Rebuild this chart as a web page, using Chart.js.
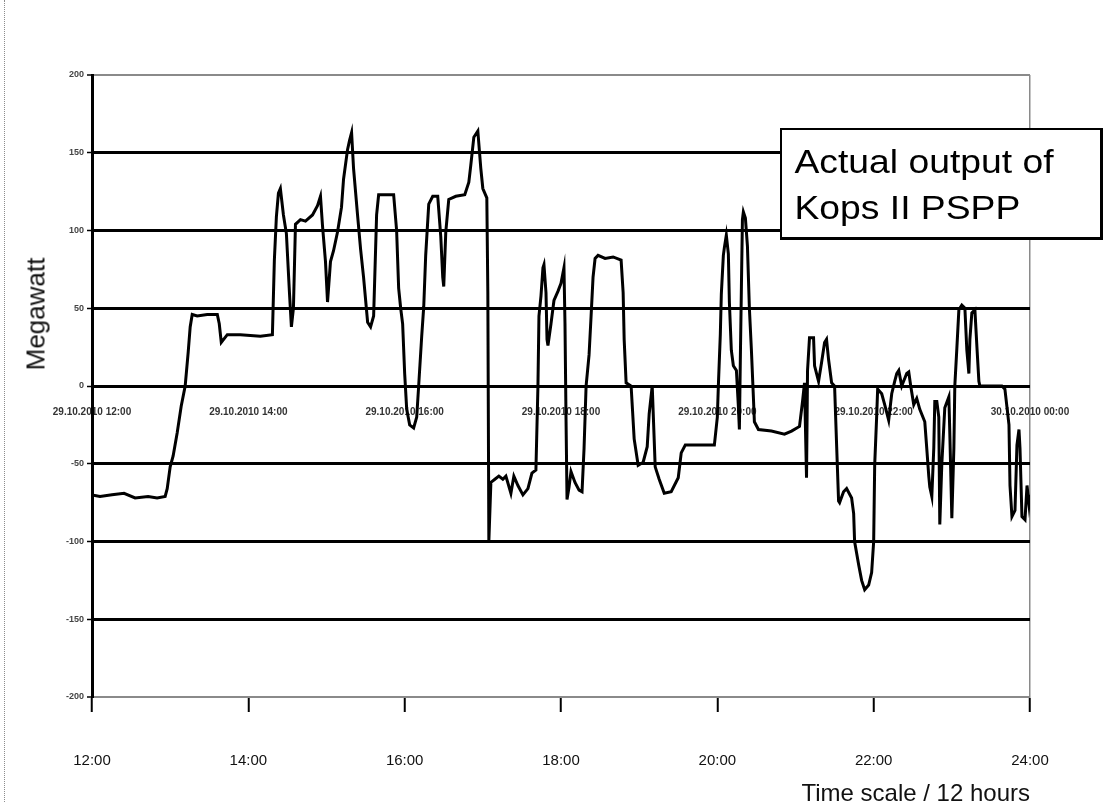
<!DOCTYPE html>
<html>
<head>
<meta charset="utf-8">
<title>Actual output of Kops II PSPP</title>
<script src="https://cdn.jsdelivr.net/npm/chart.js@4.4.1/dist/chart.umd.min.js"></script>
<style>
    html, body { margin: 0; padding: 0; background: #fff; }
    #wrap { position: relative; width: 1120px; height: 802px; overflow: hidden; }
    #scanEdge { position: absolute; left: 4px; top: 0; bottom: 0; border-left: 1px dotted #8c8c8c; }
    #ylabel {
        position: absolute; left: 36px; top: 314px;
        transform: translate(-50%, -50%) rotate(-90deg);
        font: 26px "Liberation Sans", Arial, sans-serif; color: #111; white-space: nowrap;
    }
    #note {
        position: absolute; left: 780px; top: 128px; width: 318px; height: 107px;
        border: 2px solid #000; border-right-width: 3px; border-bottom-width: 3px;
        background: #fff; box-sizing: content-box;
    }
    #note span {
        display: block; padding: 9px 0 0 11px;
        font: 33px/46px "Liberation Sans", Arial, sans-serif; color: #000;
        transform: scaleX(1.13); transform-origin: left top; white-space: nowrap;
    }
</style>
</head>
<body>
<div id="wrap">
    <canvas id="chart"></canvas>
    <div id="scanEdge"></div>
    <div id="ylabel">Megawatt</div>
    <div id="note"><span>Actual output of<br>Kops II PSPP</span></div>
</div>

<script>
// --- Du lieu doc tu hinh (gio trong ngay 29.10.2010, MW) ---
const times = [
    12.000, 12.103, 12.256, 12.410, 12.551, 12.718, 12.833, 12.936, 12.962, 13.000,
    13.038, 13.090, 13.141, 13.192, 13.231, 13.256, 13.282, 13.346, 13.474, 13.603,
    13.628, 13.654, 13.731, 13.897, 14.154, 14.308, 14.333, 14.359, 14.385, 14.410,
    14.449, 14.487, 14.526, 14.551, 14.577, 14.603, 14.667, 14.731, 14.821, 14.885,
    14.923, 14.949, 14.987, 15.013, 15.051, 15.090, 15.141, 15.192, 15.218, 15.269,
    15.295, 15.321, 15.346, 15.397, 15.436, 15.474, 15.526, 15.564, 15.603, 15.641,
    15.667, 15.859, 15.897, 15.923, 15.949, 15.974, 16.000, 16.026, 16.064, 16.115,
    16.154, 16.179, 16.218, 16.244, 16.269, 16.308, 16.359, 16.423, 16.462, 16.487,
    16.500, 16.526, 16.564, 16.654, 16.769, 16.821, 16.846, 16.885, 16.936, 16.974,
    17.000, 17.051, 17.064, 17.077, 17.103, 17.154, 17.205, 17.256, 17.295, 17.359,
    17.397, 17.449, 17.513, 17.577, 17.628, 17.679, 17.705, 17.718, 17.744, 17.769,
    17.782, 17.808, 17.821, 17.833, 17.872, 17.910, 17.962, 18.000, 18.038, 18.051,
    18.064, 18.077, 18.103, 18.128, 18.179, 18.231, 18.269, 18.295, 18.321, 18.359,
    18.385, 18.410, 18.436, 18.474, 18.564, 18.667, 18.769, 18.795, 18.808, 18.833,
    18.897, 18.936, 18.987, 19.051, 19.103, 19.128, 19.167, 19.205, 19.256, 19.321,
    19.410, 19.500, 19.538, 19.590, 19.795, 19.962, 20.000, 20.013, 20.038, 20.051,
    20.077, 20.090, 20.115, 20.141, 20.154, 20.179, 20.205, 20.244, 20.269, 20.282,
    20.295, 20.308, 20.321, 20.333, 20.359, 20.385, 20.410, 20.436, 20.462, 20.474,
    20.526, 20.692, 20.859, 20.949, 21.051, 21.090, 21.115, 21.141, 21.154, 21.179,
    21.231, 21.244, 21.295, 21.333, 21.372, 21.397, 21.423, 21.462, 21.500, 21.526,
    21.551, 21.564, 21.615, 21.654, 21.718, 21.744, 21.756, 21.808, 21.846, 21.885,
    21.936, 21.974, 22.000, 22.013, 22.038, 22.051, 22.103, 22.141, 22.192, 22.231,
    22.269, 22.295, 22.321, 22.359, 22.423, 22.449, 22.474, 22.513, 22.551, 22.590,
    22.654, 22.679, 22.705, 22.718, 22.744, 22.769, 22.782, 22.808, 22.833, 22.846,
    22.872, 22.910, 22.962, 22.974, 23.000, 23.026, 23.038, 23.064, 23.090, 23.128,
    23.167, 23.192, 23.218, 23.231, 23.256, 23.295, 23.321, 23.346, 23.359, 23.641,
    23.679, 23.731, 23.744, 23.769, 23.808, 23.833, 23.859, 23.872, 23.897, 23.936,
    23.962, 23.987, 24.000
];
const megawatt = [
    -70, -71, -70, -69, -72, -71, -72, -71, -66, -52,
    -45, -30, -13, 0, 22, 38, 46, 45, 46, 46,
    40, 28, 33, 33, 32, 33, 81, 109, 124, 127,
    110, 98, 60, 38, 50, 104, 107, 106, 110, 116,
    122, 103, 80, 54, 80, 87, 99, 115, 133, 152,
    158, 163, 140, 110, 88, 70, 41, 38, 45, 110,
    123, 123, 100, 63, 50, 40, 8, -15, -25, -27,
    -20, 0, 32, 51, 84, 117, 122, 122, 96, 70,
    64, 99, 120, 122, 123, 131, 142, 160, 164, 140,
    127, 121, 60, -100, -62, -60, -58, -60, -58, -69,
    -58, -64, -70, -66, -56, -54, 0, 45, 58, 76,
    78, 60, 30, 26, 40, 55, 61, 66, 76, 40,
    -20, -73, -65, -55, -62, -67, -68, -40, 0, 20,
    45, 70, 82, 84, 82, 83, 81, 60, 30, 2,
    0, -34, -51, -49, -39, -18, 0, -52, -60, -69,
    -68, -59, -43, -38, -38, -38, -20, 0, 33, 59,
    84, 89, 97, 85, 54, 23, 13, 10, -13, -28,
    20, 64, 107, 112, 108, 90, 50, 23, -8, -23,
    -28, -29, -31, -29, -26, -10, 2, -59, 10, 31,
    31, 13, 3, 15, 28, 30, 17, 2, 0, -38,
    -74, -75, -68, -66, -72, -82, -100, -115, -125, -131,
    -128, -120, -100, -51, -20, -2, -5, -12, -22, -5,
    3, 8, 10, 0, 8, 9, 0, -12, -8, -15,
    -23, -40, -58, -65, -71, -40, -10, -10, -20, -89,
    -50, -14, -7, -30, -85, -40, 0, 24, 49, 52,
    50, 23, 8, 30, 47, 49, 25, 3, 0, 0,
    -2, -25, -64, -84, -80, -38, -28, -40, -84, -86,
    -64, -76, -70
];

// --- Nhan truc ---
const hourTicks = [12, 14, 16, 18, 20, 22, 24];
const hourLabels = ['12:00', '14:00', '16:00', '18:00', '20:00', '22:00', '24:00'];
const dateLabels = [
    '29.10.2010 12:00', '29.10.2010 14:00', '29.10.2010 16:00', '29.10.2010 18:00',
    '29.10.2010 20:00', '29.10.2010 22:00', '30.10.2010 00:00'
];
const mwTicks = [-200, -150, -100, -50, 0, 50, 100, 150, 200];

const FONT = '"Liberation Sans", Arial, sans-serif';
const points = times.map((t, i) => ({ x: t, y: megawatt[i] }));

new Chart(document.getElementById('chart'), {
    type: 'line',
    data: {
        datasets: [{
            label: 'Kops II PSPP',
            data: points,
            xAxisID: 'x',
            yAxisID: 'y',
            borderColor: '#000',
            borderWidth: 3,
            pointRadius: 0,
            tension: 0,
            fill: false
        }]
    },
    options: {
        responsive: true,
        maintainAspectRatio: false,
        animation: false,
        layout: { padding: { top: 75, right: 90, left: 0, bottom: 0 } },
        plugins: {
            legend: { display: false },
            tooltip: { enabled: false }
        },
        scales: {
            x: {
                type: 'linear',
                position: 'bottom',
                min: 12,
                max: 24,
                afterBuildTicks: s => { s.ticks = hourTicks.map(v => ({ value: v })); },
                afterFit: s => { s.height = 105; },
                ticks: {
                    padding: 40,
                    maxRotation: 0,
                    autoSkip: false,
                    color: '#111',
                    font: { family: FONT, size: 15 },
                    callback: v => hourLabels[hourTicks.indexOf(v)]
                },
                grid: {
                    drawOnChartArea: true,
                    color: c => (c.tick && c.tick.value === 24) ? '#8a8a8a' : 'rgba(0,0,0,0)',
                    lineWidth: 1.5,
                    tickColor: '#000',
                    tickWidth: 2,
                    tickLength: 15
                },
                border: { display: true, color: '#8a8a8a', width: 2 },
                title: {
                    display: true,
                    text: 'Time scale / 12 hours',
                    align: 'end',
                    color: '#111',
                    padding: 0,
                    font: { family: FONT, size: 24, lineHeight: 0.6 }
                }
            },
            x2: {
                type: 'linear',
                axis: 'x',
                position: { y: 0 },
                min: 12,
                max: 24,
                afterBuildTicks: s => { s.ticks = hourTicks.map(v => ({ value: v })); },
                ticks: {
                    padding: 12,
                    maxRotation: 0,
                    autoSkip: false,
                    color: '#333',
                    font: { family: FONT, size: 10, weight: 'bold' },
                    callback: v => dateLabels[hourTicks.indexOf(v)]
                },
                grid: { display: false },
                border: { display: false }
            },
            y: {
                type: 'linear',
                position: 'left',
                min: -200,
                max: 200,
                afterBuildTicks: s => { s.ticks = mwTicks.map(v => ({ value: v })); },
                afterFit: s => { s.width = 92; },
                ticks: {
                    padding: 3,
                    color: '#444',
                    font: { family: FONT, size: 9, weight: 'bold' }
                },
                grid: {
                    color: c => (c.tick && Math.abs(c.tick.value) === 200) ? '#8a8a8a' : '#000',
                    lineWidth: c => (c.tick && Math.abs(c.tick.value) === 200) ? 2 : 3,
                    tickColor: '#000',
                    tickWidth: 1.5,
                    tickLength: 5
                },
                border: { display: true, color: '#000', width: 3 }
            }
        }
    }
});
</script>
</body>
</html>
